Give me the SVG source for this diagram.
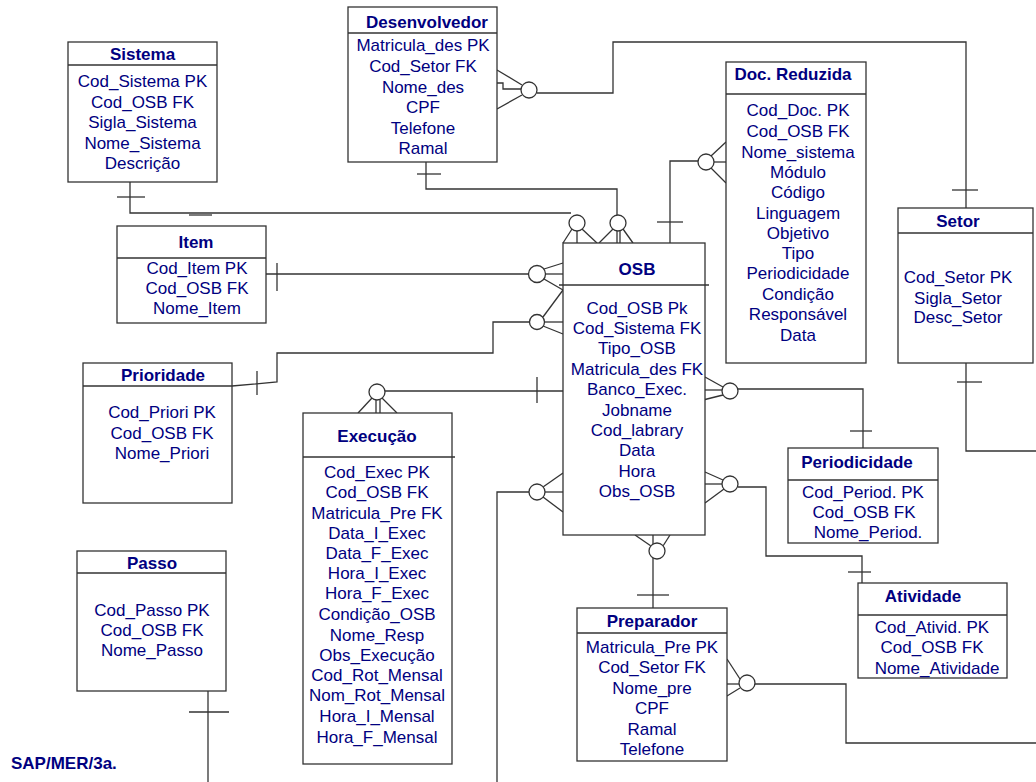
<svg xmlns="http://www.w3.org/2000/svg" width="1036" height="782" viewBox="0 0 1036 782">
<style>
.box{fill:#fff;stroke:#333;stroke-width:1.3}
.hd{stroke:#333;stroke-width:1.3}
.t{font-family:"Liberation Sans",Arial,sans-serif;font-size:17px;fill:#000080;text-anchor:middle}
.b{font-weight:bold}
.c line,.c polyline,.c path{fill:none;stroke:#333;stroke-width:1.3}
.c circle{fill:#fff;stroke:#333;stroke-width:1.3}
</style>
<rect width="1036" height="782" fill="#fff"/>
<g id="connectors" class="c">
  <!-- Sistema - OSB -->
  <polyline points="130,182 130,213 571,213"/>
  <line x1="117" y1="197" x2="145" y2="197"/>
  <line x1="189" y1="215" x2="212" y2="215"/>
  <line x1="572" y1="229" x2="563" y2="243"/>
  <line x1="577" y1="231" x2="577" y2="243"/>
  <line x1="582" y1="229" x2="597" y2="243"/>
  <circle cx="577" cy="223" r="8"/>
  <!-- Desenvolvedor - OSB -->
  <polyline points="426,162 426,189 617,189 617,215"/>
  <line x1="417" y1="174" x2="441" y2="174"/>
  <line x1="613" y1="229" x2="599" y2="243"/>
  <line x1="617" y1="231" x2="617" y2="243"/>
  <line x1="620" y1="231" x2="620" y2="243"/>
  <line x1="623" y1="229" x2="633" y2="243"/>
  <circle cx="618" cy="223" r="8"/>
  <!-- Desenvolvedor - Setor -->
  <line x1="497" y1="70" x2="522" y2="85"/>
  <polyline points="497,83 503,83 503,89 521,89"/>
  <line x1="497" y1="109" x2="522" y2="95"/>
  <polyline points="537,93 613,93 613,42 966,42 966,208"/>
  <line x1="952" y1="190" x2="978" y2="190"/>
  <circle cx="529" cy="90" r="8"/>
  <!-- OSB - Doc. Reduzida -->
  <polyline points="670,243 670,161 698,161"/>
  <line x1="657" y1="222" x2="683" y2="222"/>
  <line x1="711" y1="156" x2="726" y2="142"/>
  <line x1="714" y1="162" x2="726" y2="162"/>
  <line x1="711" y1="168" x2="726" y2="183"/>
  <circle cx="706" cy="162" r="8"/>
  <!-- Item - OSB -->
  <line x1="266" y1="274" x2="529" y2="274"/>
  <line x1="277" y1="263" x2="277" y2="291"/>
  <line x1="544" y1="269" x2="563" y2="263"/>
  <line x1="545" y1="274" x2="563" y2="274"/>
  <line x1="544" y1="279" x2="563" y2="290"/>
  <circle cx="537" cy="274" r="8.5"/>
  <!-- Prioridade - OSB -->
  <polyline points="232,386 277,382 277,353 493,353 493,322 529,322"/>
  <line x1="257" y1="371" x2="257" y2="395"/>
  <line x1="543" y1="317" x2="563" y2="290"/>
  <line x1="545" y1="322" x2="563" y2="322"/>
  <line x1="543" y1="326" x2="563" y2="334"/>
  <circle cx="537" cy="322" r="7.5"/>
  <!-- Execucao - OSB -->
  <line x1="385" y1="391" x2="563" y2="391"/>
  <line x1="537" y1="377" x2="537" y2="403"/>
  <line x1="372" y1="398" x2="358" y2="413"/>
  <line x1="376" y1="400" x2="376" y2="413"/>
  <line x1="380" y1="400" x2="380" y2="413"/>
  <line x1="382" y1="398" x2="397" y2="413"/>
  <circle cx="377" cy="392" r="8"/>
  <!-- OSB left lower -->
  <polyline points="529,492 497,492 497,782"/>
  <line x1="543" y1="487" x2="563" y2="473"/>
  <line x1="545" y1="492" x2="563" y2="492"/>
  <line x1="543" y1="497" x2="563" y2="512"/>
  <circle cx="537" cy="492" r="8"/>
  <!-- OSB - Periodicidade -->
  <line x1="705" y1="377" x2="723" y2="387"/>
  <line x1="705" y1="390" x2="722" y2="390"/>
  <line x1="703" y1="400" x2="723" y2="395"/>
  <polyline points="738,389 863,389 863,448"/>
  <line x1="850" y1="431" x2="872" y2="431"/>
  <circle cx="730" cy="391" r="8"/>
  <!-- OSB - Atividade -->
  <line x1="705" y1="472" x2="723" y2="480"/>
  <line x1="705" y1="484" x2="722" y2="484"/>
  <line x1="705" y1="503" x2="724" y2="489"/>
  <polyline points="738,487 766,487 766,556 862,556 862,588"/>
  <line x1="848" y1="572" x2="871" y2="572"/>
  <circle cx="730" cy="484" r="8"/>
  <!-- OSB - Preparador -->
  <line x1="635" y1="535" x2="651" y2="546"/>
  <line x1="653" y1="535" x2="653" y2="608"/>
  <line x1="670" y1="535" x2="663" y2="546"/>
  <line x1="637" y1="595" x2="669" y2="595"/>
  <circle cx="657" cy="551" r="8"/>
  <!-- Preparador - right -->
  <line x1="727" y1="659" x2="740" y2="679"/>
  <line x1="727" y1="684" x2="739" y2="684"/>
  <line x1="727" y1="696" x2="740" y2="688"/>
  <polyline points="755,684 846,684 846,743 1036,743"/>
  <circle cx="747" cy="683" r="8"/>
  <!-- Setor bottom -->
  <polyline points="966,363 966,451 1036,451"/>
  <line x1="957" y1="382" x2="982" y2="382"/>
  <!-- Passo -->
  <line x1="208" y1="687" x2="208" y2="782"/>
  <line x1="189" y1="712" x2="229" y2="712"/>
</g>
<g id="sistema">
  <rect class="box" x="68" y="42" width="149" height="140"/>
  <line class="hd" x1="68" y1="65" x2="217" y2="65"/>
  <text class="t b" x="142.5" y="60">Sistema</text>
  <text class="t" x="142.5" y="87">Cod_Sistema PK</text>
  <text class="t" x="142.5" y="107.5">Cod_OSB FK</text>
  <text class="t" x="142.5" y="128">Sigla_Sistema</text>
  <text class="t" x="142.5" y="148.5">Nome_Sistema</text>
  <text class="t" x="142.5" y="169">Descrição</text>
</g>
<g id="desenvolvedor">
  <rect class="box" x="348" y="7" width="149" height="155"/>
  <line class="hd" x1="348" y1="33" x2="497" y2="33"/>
  <text class="t b" x="427" y="28">Desenvolvedor</text>
  <text class="t" x="423" y="51">Matricula_des PK</text>
  <text class="t" x="423" y="72">Cod_Setor FK</text>
  <text class="t" x="423" y="93">Nome_des</text>
  <text class="t" x="423" y="113">CPF</text>
  <text class="t" x="423" y="133.5">Telefone</text>
  <text class="t" x="423" y="154">Ramal</text>
</g>
<g id="doc-reduzida">
  <rect class="box" x="726" y="62" width="140" height="301"/>
  <line class="hd" x1="726" y1="94" x2="866" y2="94"/>
  <text class="t b" x="793" y="80">Doc. Reduzida</text>
  <text class="t" x="798" y="116">Cod_Doc. PK</text>
  <text class="t" x="798" y="137">Cod_OSB FK</text>
  <text class="t" x="798" y="158">Nome_sistema</text>
  <text class="t" x="798" y="178">Módulo</text>
  <text class="t" x="798" y="198">Código</text>
  <text class="t" x="798" y="219">Linguagem</text>
  <text class="t" x="798" y="239">Objetivo</text>
  <text class="t" x="798" y="259">Tipo</text>
  <text class="t" x="798" y="279">Periodicidade</text>
  <text class="t" x="798" y="300">Condição</text>
  <text class="t" x="798" y="320">Responsável</text>
  <text class="t" x="798" y="341">Data</text>
</g>
<g id="setor">
  <rect class="box" x="898" y="208" width="135" height="155"/>
  <line class="hd" x1="898" y1="233" x2="1033" y2="233"/>
  <text class="t b" x="958" y="227">Setor</text>
  <text class="t" x="958" y="283">Cod_Setor PK</text>
  <text class="t" x="958" y="304">Sigla_Setor</text>
  <text class="t" x="958" y="323">Desc_Setor</text>
</g>
<g id="item">
  <rect class="box" x="117" y="226" width="149" height="97"/>
  <line class="hd" x1="117" y1="258" x2="266" y2="258"/>
  <text class="t b" x="196" y="248">Item</text>
  <text class="t" x="197" y="274">Cod_Item PK</text>
  <text class="t" x="197" y="294">Cod_OSB FK</text>
  <text class="t" x="197" y="314">Nome_Item</text>
</g>
<g id="osb">
  <rect class="box" x="563" y="243" width="142" height="292"/>
  <line class="hd" x1="559" y1="285" x2="709" y2="285"/>
  <text class="t b" x="637" y="275">OSB</text>
  <text class="t" x="637" y="314">Cod_OSB Pk</text>
  <text class="t" x="637" y="334">Cod_Sistema FK</text>
  <text class="t" x="637" y="354">Tipo_OSB</text>
  <text class="t" x="637" y="375">Matricula_des FK</text>
  <text class="t" x="637" y="395">Banco_Exec.</text>
  <text class="t" x="637" y="416">Jobname</text>
  <text class="t" x="637" y="436">Cod_labrary</text>
  <text class="t" x="637" y="456">Data</text>
  <text class="t" x="637" y="477">Hora</text>
  <text class="t" x="637" y="497">Obs_OSB</text>
</g>
<g id="prioridade">
  <rect class="box" x="83" y="363" width="149" height="140"/>
  <line class="hd" x1="83" y1="386" x2="232" y2="386"/>
  <text class="t b" x="163" y="381">Prioridade</text>
  <text class="t" x="162" y="418">Cod_Priori PK</text>
  <text class="t" x="162" y="439">Cod_OSB FK</text>
  <text class="t" x="162" y="459">Nome_Priori</text>
</g>
<g id="execucao">
  <rect class="box" x="303" y="413" width="149" height="351"/>
  <line class="hd" x1="303" y1="457" x2="455" y2="457"/>
  <text class="t b" x="377" y="442">Execução</text>
  <text class="t" x="377" y="478">Cod_Exec PK</text>
  <text class="t" x="377" y="498">Cod_OSB FK</text>
  <text class="t" x="377" y="519">Matricula_Pre FK</text>
  <text class="t" x="377" y="539">Data_I_Exec</text>
  <text class="t" x="377" y="559">Data_F_Exec</text>
  <text class="t" x="377" y="579">Hora_I_Exec</text>
  <text class="t" x="377" y="599">Hora_F_Exec</text>
  <text class="t" x="377" y="620">Condição_OSB</text>
  <text class="t" x="377" y="641">Nome_Resp</text>
  <text class="t" x="377" y="661">Obs_Execução</text>
  <text class="t" x="377" y="681">Cod_Rot_Mensal</text>
  <text class="t" x="377" y="701">Nom_Rot_Mensal</text>
  <text class="t" x="377" y="722">Hora_I_Mensal</text>
  <text class="t" x="377" y="743">Hora_F_Mensal</text>
</g>
<g id="periodicidade">
  <rect class="box" x="788" y="448" width="150" height="95"/>
  <line class="hd" x1="788" y1="480" x2="938" y2="480"/>
  <text class="t b" x="857" y="468">Periodicidade</text>
  <text class="t" x="863" y="498">Cod_Period. PK</text>
  <text class="t" x="864" y="518">Cod_OSB FK</text>
  <text class="t" x="868" y="538">Nome_Period.</text>
</g>
<g id="atividade">
  <rect class="box" x="858" y="583" width="149" height="95"/>
  <line class="hd" x1="858" y1="615" x2="1007" y2="615"/>
  <text class="t b" x="923" y="602">Atividade</text>
  <text class="t" x="932" y="633">Cod_Ativid. PK</text>
  <text class="t" x="932" y="653">Cod_OSB FK</text>
  <text class="t" x="937" y="674">Nome_Atividade</text>
</g>
<g id="preparador">
  <rect class="box" x="577" y="608" width="150" height="153"/>
  <line class="hd" x1="577" y1="633" x2="727" y2="633"/>
  <text class="t b" x="652" y="627">Preparador</text>
  <text class="t" x="652" y="653">Matricula_Pre PK</text>
  <text class="t" x="652" y="673">Cod_Setor FK</text>
  <text class="t" x="652" y="694">Nome_pre</text>
  <text class="t" x="652" y="714">CPF</text>
  <text class="t" x="652" y="735">Ramal</text>
  <text class="t" x="652" y="755">Telefone</text>
</g>
<g id="passo">
  <rect class="box" x="77" y="551" width="149" height="140"/>
  <line class="hd" x1="77" y1="573" x2="226" y2="573"/>
  <text class="t b" x="152" y="569">Passo</text>
  <text class="t" x="152" y="616">Cod_Passo PK</text>
  <text class="t" x="152" y="636">Cod_OSB FK</text>
  <text class="t" x="152" y="656">Nome_Passo</text>
</g>
<g id="label">
  <text class="t b" x="11" y="769" style="text-anchor:start">SAP/MER/3a.</text>
</g>
</svg>
